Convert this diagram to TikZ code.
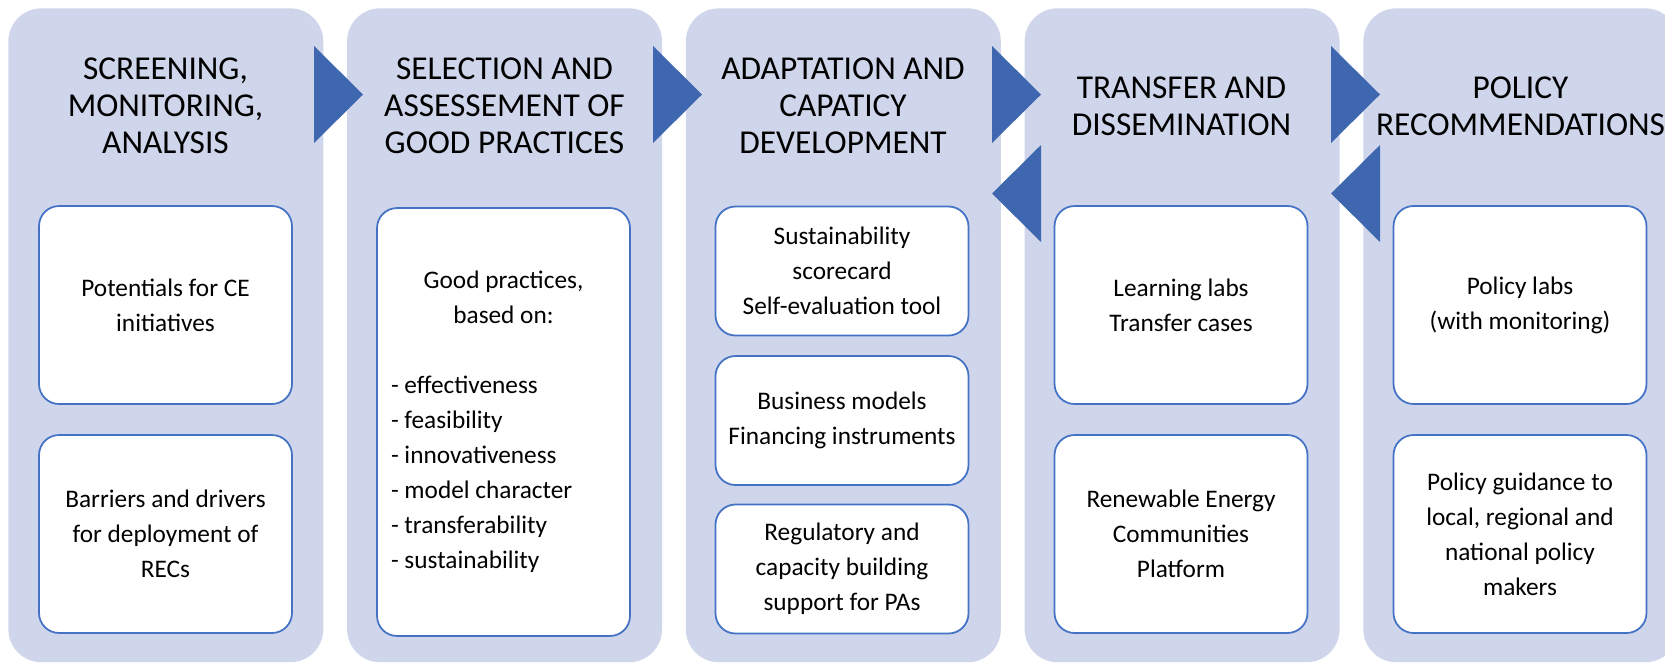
\documentclass[tikz,border=0pt]{standalone}
\usepackage{fontspec}
\setmainfont{Carlito}
\usepackage{xcolor}
\usepackage{tikz}

\definecolor{stagefill}{RGB}{207,213,234}
\definecolor{arrowblue}{RGB}{62,103,176}
\definecolor{boxline}{RGB}{68,114,196}
\newcommand{\headfont}{\fontsize{19}{21}\selectfont}
\newcommand{\itemfont}{\fontsize{14.4}{19.9}\selectfont}

\begin{document}
\begin{tikzpicture}[x=0.02cm, y=-0.02cm,
  stage/.style={fill=stagefill, rounded corners=0.66cm, minimum width=6.3cm, minimum height=13.08cm, inner sep=0pt, anchor=north west},
  stagehead/.style={font=\headfont, align=center, inner sep=0pt},
  itembox/.style={draw=boxline, line width=1pt, fill=white, rounded corners=0.4cm, minimum width=5.06cm, inner sep=0pt, align=center, font=\itemfont},
  pairbox/.style={itembox, minimum height=3.96cm},
  tribox/.style={itembox, minimum height=2.58cm},
  fwd/.style={fill=arrowblue}]
\useasboundingbox (0,0) rectangle (1665,664);
\clip (0,0) rectangle (1665,664);
\foreach \i/\x in {1/8, 2/346.75, 3/685.5, 4/1024.25, 5/1363}
\node[stage] (c\i) at (\x,8) {};
\foreach \s in {0,339,678,1017}
\fill[fwd, shift={(\s,0)}] (314,46) -- (363,94.5) -- (314,143) -- cycle;
\foreach \s in {678,1017}
\fill[fwd, shift={(\s,0)}] (363,145) -- (314,193.5) -- (363,242) -- cycle;
\node[stagehead] (h1) at (165.5,106) {SCREENING,\\ MONITORING,\\ ANALYSIS};
\node[stagehead] (h2) at (504.5,106) {SELECTION AND\\ ASSESSEMENT OF\\ GOOD PRACTICES};
\node[stagehead] (h3) at (843,106) {ADAPTATION AND\\ CAPATICY\\ DEVELOPMENT};
\node[stagehead] (h4) at (1181.5,106) {TRANSFER AND\\ DISSEMINATION};
\node[stagehead] (h5) at (1520.5,106) {POLICY\\ RECOMMENDATIONS};
\node[pairbox] (b11) at (165.5,305) {Potentials for CE\\ initiatives};
\node[pairbox] (b12) at (165.5,534) {Barriers and drivers\\ for deployment of\\ RECs};
\node[itembox, minimum height=8.56cm, text width=4.5cm, align=flush left] (b21) at (503.5,422)
{{\centering Good practices,\\ based on:\\[\baselineskip]}
- effectiveness\\ - feasibility\\ - innovativeness\\ - model character\\ - transferability\\ - sustainability};
\node[tribox] (b31) at (842,271) {Sustainability\\ scorecard\\ Self-evaluation tool};
\node[tribox] (b32) at (842,420.5) {Business models\\ Financing instruments};
\node[tribox] (b33) at (842,569) {Regulatory and\\ capacity building\\ support for PAs};
\node[pairbox] (b41) at (1181,305) {Learning labs\\ Transfer cases};
\node[pairbox] (b42) at (1181,534) {Renewable Energy\\ Communities\\ Platform};
\node[pairbox] (b51) at (1520,305) {Policy labs\\ (with monitoring)};
\node[pairbox] (b52) at (1520,534) {Policy guidance to\\ local, regional and\\ national policy\\ makers};
\end{tikzpicture}
\end{document}
